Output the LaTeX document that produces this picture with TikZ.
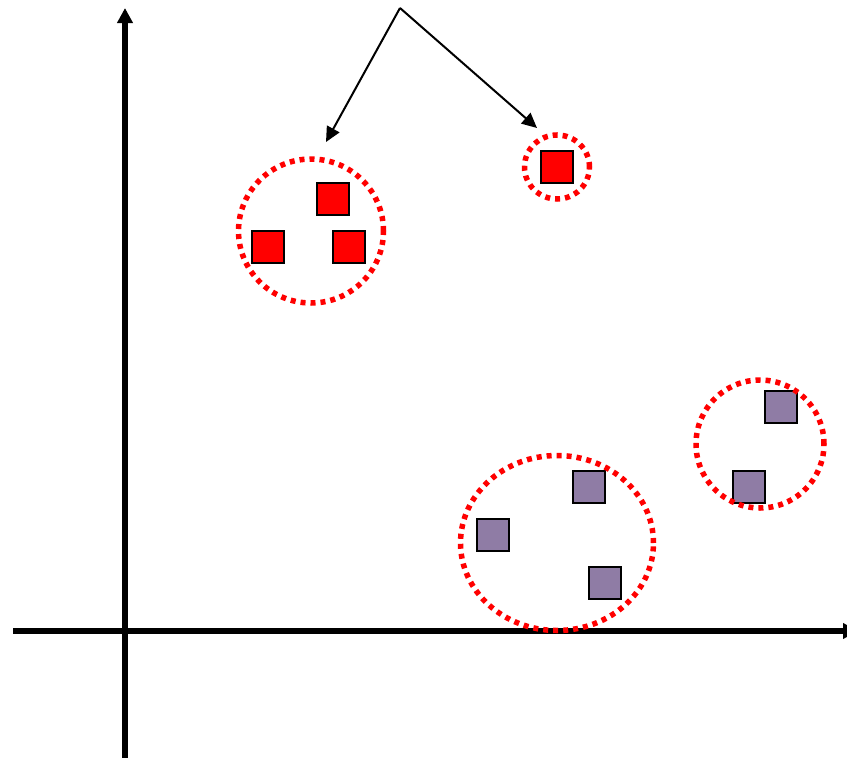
\documentclass[tikz,border=0pt]{standalone}
\usepackage{tikz}
\usetikzlibrary{positioning,arrows.meta,shapes.geometric}
\definecolor{clred}{RGB}{255,0,0}
\definecolor{clpurple}{RGB}{143,124,165}

\begin{document}
\begin{tikzpicture}[
  x=1pt, y=-1pt,
  axis/.style={line width=5.5pt, -{Triangle[length=15pt,width=15pt]}},
  pt/.style={rectangle, draw=black, line width=2.2pt, minimum size=32pt,
    inner sep=0pt},
  redpt/.style={pt, fill=clred},
  purpt/.style={pt, fill=clpurple},
  clus/.style={ellipse, draw=clred, line width=5.5pt,
    dash pattern=on 5pt off 5pt, inner sep=0pt},
  arr/.style={-{Triangle[length=15pt,width=14pt]}, line width=2pt}
]
\useasboundingbox (0,0) rectangle (847,758);

% axes
\draw[axis] (125,758) -- (125,8);
\draw[axis] (13,631) -- (858,631);

% red points
\node[redpt] (r1) at (333,199) {};
\node[redpt] (r2) at (268,247) {};
\node[redpt] (r3) at (349,247) {};
\node[redpt] (r4) at (557,167) {};

% purple points
\node[purpt] (p1) at (589,487) {};
\node[purpt] (p2) at (493,535) {};
\node[purpt] (p3) at (605,583) {};
\node[purpt] (p4) at (781,407) {};
\node[purpt] (p5) at (749,487) {};

% clusters
\node[clus, minimum width=145pt, minimum height=144pt] (cA) at (311,231) {};
\node[clus, minimum width=65pt, minimum height=64pt] (cB) at (557,167) {};
\node[clus, minimum width=193pt, minimum height=175pt] (cC) at (557,543) {};
\node[clus, minimum width=128pt, minimum height=128pt] (cD) at (760,444) {};

% pointers from the top
\coordinate (apex) at (400,8);
\coordinate (tipA) at (326,142);
\coordinate (tipB) at (537,128);
\draw[arr] (apex) -- (tipA);
\draw[arr] (apex) -- (tipB);
\end{tikzpicture}
\end{document}
